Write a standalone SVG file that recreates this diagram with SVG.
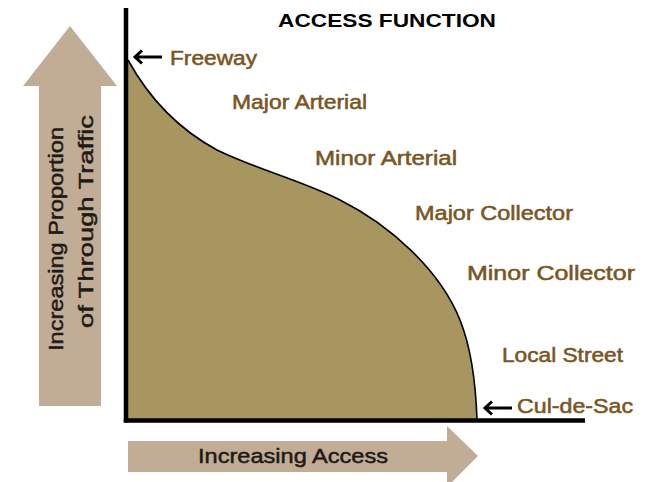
<svg xmlns="http://www.w3.org/2000/svg" width="650" height="482" viewBox="0 0 650 482">
  <style>
    .lbl { font-family: "Liberation Sans", Arial, sans-serif; font-size: 21px; fill: #7a5524; stroke: #7a5524; stroke-width: 0.55; }
    .axlbl { font-family: "Liberation Sans", Arial, sans-serif; font-size: 21px; fill: #1e1a16; stroke: #1e1a16; stroke-width: 0.5; }
    .title { font-family: "Liberation Sans", Arial, sans-serif; font-size: 18px; font-weight: bold; fill: #000; }
    .bigarrow { fill: #c1ad96; }
    .axis { stroke: #000; stroke-width: 4.5; fill: none; }
    .ptr { stroke: #000; stroke-width: 3; fill: none; }
  </style>
  <rect width="650" height="482" fill="#ffffff"/>

  <g id="y-arrow">
    <polygon class="bigarrow" points="70,26 117,86 101,86 101,406 39,406 39,86 23,86"/>
    <text class="axlbl" transform="translate(63,351) rotate(-90)" textLength="224" lengthAdjust="spacingAndGlyphs">Increasing Proportion</text>
    <text class="axlbl" transform="translate(93,328) rotate(-90)" textLength="213" lengthAdjust="spacingAndGlyphs">of Through Traffic</text>
  </g>

  <g id="x-arrow">
    <polygon class="bigarrow" points="128,441 447,441 447,426 478,456 447,487 447,472 128,472"/>
    <text class="axlbl" x="198" y="463" textLength="190" lengthAdjust="spacingAndGlyphs">Increasing Access</text>
  </g>

  <g id="access-area">
    <path d="M128,60 C150,100 180,130 217,150 C258,170 300,180 340,200 C390,225 440,270 460,320 C472,350 476,390 477,420 L128,420 Z" fill="#a79660"/>
    <path d="M128,60 C150,100 180,130 217,150 C258,170 300,180 340,200 C390,225 440,270 460,320 C472,350 476,390 477,420" fill="none" stroke="#000" stroke-width="1.6"/>
  </g>

  <g id="axes">
    <line class="axis" x1="126" y1="8" x2="126" y2="422.5"/>
    <line class="axis" x1="123.8" y1="420.5" x2="585" y2="420.5"/>
  </g>

  <g id="title">
    <text class="title" x="278" y="27" textLength="218" lengthAdjust="spacingAndGlyphs">ACCESS FUNCTION</text>
  </g>

  <g id="connectors">
    <path class="ptr" d="M135,57 H162 M142,50.5 L135,57 L142,63.5"/>
    <path class="ptr" d="M485,408 H512 M492,401.5 L485,408 L492,414.5"/>
  </g>

  <g id="freeway"><text class="lbl" x="170" y="65" textLength="87" lengthAdjust="spacingAndGlyphs">Freeway</text></g>
  <g id="major-arterial"><text class="lbl" x="232" y="109" textLength="135" lengthAdjust="spacingAndGlyphs">Major Arterial</text></g>
  <g id="minor-arterial"><text class="lbl" x="315" y="165" textLength="142" lengthAdjust="spacingAndGlyphs">Minor Arterial</text></g>
  <g id="major-collector"><text class="lbl" x="415" y="220" textLength="158" lengthAdjust="spacingAndGlyphs">Major Collector</text></g>
  <g id="minor-collector"><text class="lbl" x="467" y="280" textLength="168" lengthAdjust="spacingAndGlyphs">Minor Collector</text></g>
  <g id="local-street"><text class="lbl" x="502" y="362" textLength="121" lengthAdjust="spacingAndGlyphs">Local Street</text></g>
  <g id="cul-de-sac"><text class="lbl" x="517" y="413" textLength="116" lengthAdjust="spacingAndGlyphs">Cul-de-Sac</text></g>
</svg>
